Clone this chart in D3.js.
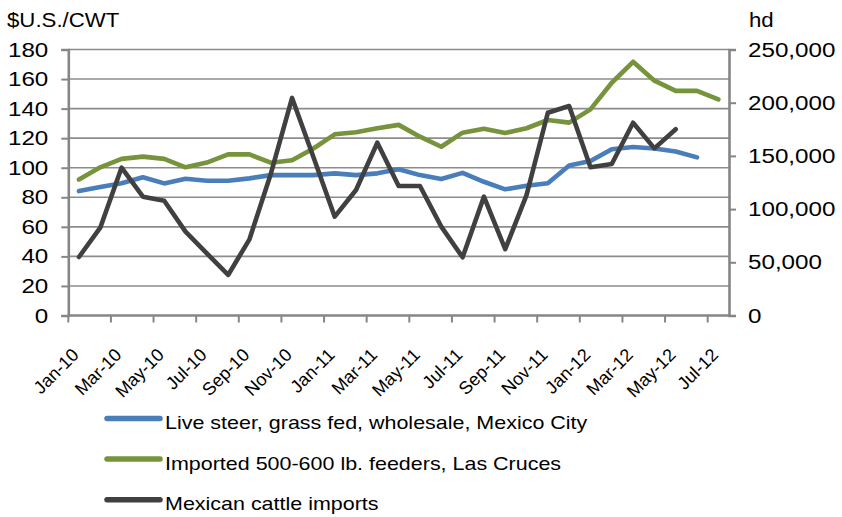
<!DOCTYPE html>
<html>
<head>
<meta charset="utf-8">
<script src="https://cdn.jsdelivr.net/npm/d3@7"></script>
<style>
	html, body { margin: 0; padding: 0; background: #fff; }
	svg text { font-family: "Liberation Sans", Arial, sans-serif; fill: #000; }
</style>
</head>
<body>
<svg id="chart" width="842" height="517"></svg>
<script>
'use strict';

//chart data
var months = ['Jan-10', 'Feb-10', 'Mar-10', 'Apr-10', 'May-10', 'Jun-10', 'Jul-10', 'Aug-10', 'Sep-10', 'Oct-10', 'Nov-10', 'Dec-10',
	'Jan-11', 'Feb-11', 'Mar-11', 'Apr-11', 'May-11', 'Jun-11', 'Jul-11', 'Aug-11', 'Sep-11', 'Oct-11', 'Nov-11', 'Dec-11',
	'Jan-12', 'Feb-12', 'Mar-12', 'Apr-12', 'May-12', 'Jun-12', 'Jul-12'];

var liveSteer = [84.2, 87, 89.5, 93.5, 89.4, 92.5, 91.2, 91.2, 92.8, 95, 95, 95,
	96.2, 95, 96.2, 99, 95, 92.4, 96.5, 90.5, 85.4, 87.8, 89.5, 101.5,
	104.5, 112.5, 114, 113, 111, 107];

var feeders = [92, 100.3, 106, 107.5, 106, 100.3, 103.5, 109, 109, 103.4, 105, 113,
	122.6, 124, 126.7, 129, 121, 114.2, 123.7, 126.4, 123.5, 126.7, 132.3, 130.5,
	139.5, 157.5, 171.7, 158.9, 152, 152, 146.3];

var imports = [55000, 82500, 139000, 111700, 107900, 78800, 58400, 38100, 71600, 133000, 204500, 149000,
	92900, 118000, 162400, 121700, 121700, 83500, 54700, 111700, 62300, 113200, 190600, 196900,
	139300, 142400, 181200, 157100, 175000];

var leftTicks = [0, 20, 40, 60, 80, 100, 120, 140, 160, 180],
	rightTicks = [0, 50000, 100000, 150000, 200000, 250000],
	xTickLabels = months.filter(function(m, i) { return i % 2 === 0; });

var seriesNames = ['Live steer, grass fed, wholesale, Mexico City', 'Imported 500-600 lb. feeders, Las Cruces', 'Mexican cattle imports'],
	seriesColors = ['#4a7ebb', '#77933c', '#404040'];

//layout
var svg = d3.select('#chart'),
	plotLeft = 68.3,
	plotRight = 729,
	plotTop = 49.5,
	plotBottom = 315.5,
	axisColor = '#868686',
	gridColor = '#8c8c8c';

var x = d3.scaleBand().domain(months).range([plotLeft, plotRight]),
	yLeft = d3.scaleLinear().domain([0, 180]).range([plotBottom, plotTop]),
	yRight = d3.scaleLinear().domain([0, 250000]).range([plotBottom, plotTop]);

function cx(i) {
	return x(months[i]) + x.bandwidth() / 2;
}

//gridlines
svg.append('g').selectAll('line')
	.data(leftTicks.slice(1))
	.enter().append('line')
	.attr('x1', plotLeft).attr('x2', plotRight)
	.attr('y1', function(d) { return yLeft(d); })
	.attr('y2', function(d) { return yLeft(d); })
	.attr('stroke', gridColor)
	.attr('stroke-width', 1.6);

//left axis
var gLeft = svg.append('g').attr('transform', 'translate(' + plotLeft + ',0)')
	.call(d3.axisLeft(yLeft).tickValues(leftTicks).tickSize(7).tickPadding(13).tickFormat(d3.format('d')));

//right axis
var gRight = svg.append('g').attr('transform', 'translate(' + plotRight + ',0)')
	.call(d3.axisRight(yRight).tickValues(rightTicks).tickSize(7).tickPadding(12).tickFormat(d3.format(',')));

[gLeft, gRight].forEach(function(g) {
	g.select('.domain').attr('stroke', axisColor).attr('stroke-width', 2.6);
	g.selectAll('.tick line').attr('stroke', axisColor).attr('stroke-width', 2);
	g.selectAll('.tick text').attr('font-size', 20.5).attr('fill', '#000');
	//stretch tick labels a bit horizontally, like the source
	g.selectAll('.tick text').each(function() {
		var t = d3.select(this);
		t.attr('transform', 'translate(' + t.attr('x') + ',0) scale(1.18,1)').attr('x', 0);
	});
});

//bottom axis: ticks between categories, every two months
var gBottom = svg.append('g');
gBottom.append('line')
	.attr('x1', plotLeft).attr('x2', plotRight)
	.attr('y1', plotBottom).attr('y2', plotBottom)
	.attr('stroke', axisColor).attr('stroke-width', 2.6);

gBottom.selectAll('line.tick')
	.data(xTickLabels)
	.enter().append('line')
	.attr('class', 'tick')
	.attr('x1', function(d) { return x(d); })
	.attr('x2', function(d) { return x(d); })
	.attr('y1', plotBottom).attr('y2', plotBottom + 7)
	.attr('stroke', axisColor).attr('stroke-width', 2);

gBottom.selectAll('text')
	.data(xTickLabels)
	.enter().append('text')
	.attr('text-anchor', 'end')
	.attr('font-size', 18)
	.attr('transform', function(d) {
		return 'translate(' + (x(d) + x.bandwidth() / 2 + 1) + ',356) rotate(-45)';
	})
	.text(function(d) { return d; });

//axis titles
svg.append('text').attr('font-size', 19.5)
	.attr('transform', 'translate(7,27) scale(1.14,1)')
	.text('$U.S./CWT');

svg.append('text').attr('font-size', 19.5)
	.attr('transform', 'translate(749,27) scale(1.14,1)')
	.text('hd');

//series lines
var lineLeft = d3.line()
	.x(function(d, i) { return cx(i); })
	.y(function(d) { return yLeft(d); });

var lineRight = d3.line()
	.x(function(d, i) { return cx(i); })
	.y(function(d) { return yRight(d); });

function drawSeries(path, color) {
	svg.append('path')
		.attr('d', path)
		.attr('fill', 'none')
		.attr('stroke', color)
		.attr('stroke-width', 4.6)
		.attr('stroke-linejoin', 'round')
		.attr('stroke-linecap', 'round');
}

drawSeries(lineLeft(liveSteer), seriesColors[0]);
drawSeries(lineLeft(feeders), seriesColors[1]);
drawSeries(lineRight(imports), seriesColors[2]);

//legend
var legend = svg.append('g').selectAll('g')
	.data(seriesNames)
	.enter().append('g')
	.attr('transform', function(d, i) { return 'translate(0,' + (418.5 + i * 40.6) + ')'; });

legend.append('line')
	.attr('x1', 107).attr('x2', 160)
	.attr('y1', 0).attr('y2', 0)
	.attr('stroke', function(d, i) { return seriesColors[i]; })
	.attr('stroke-width', 5.5)
	.attr('stroke-linecap', 'round');

legend.append('text')
	.attr('font-size', 19)
	.attr('transform', 'translate(165,10.5) scale(1.13,1)')
	.text(function(d) { return d; });
</script>
</body>
</html>
